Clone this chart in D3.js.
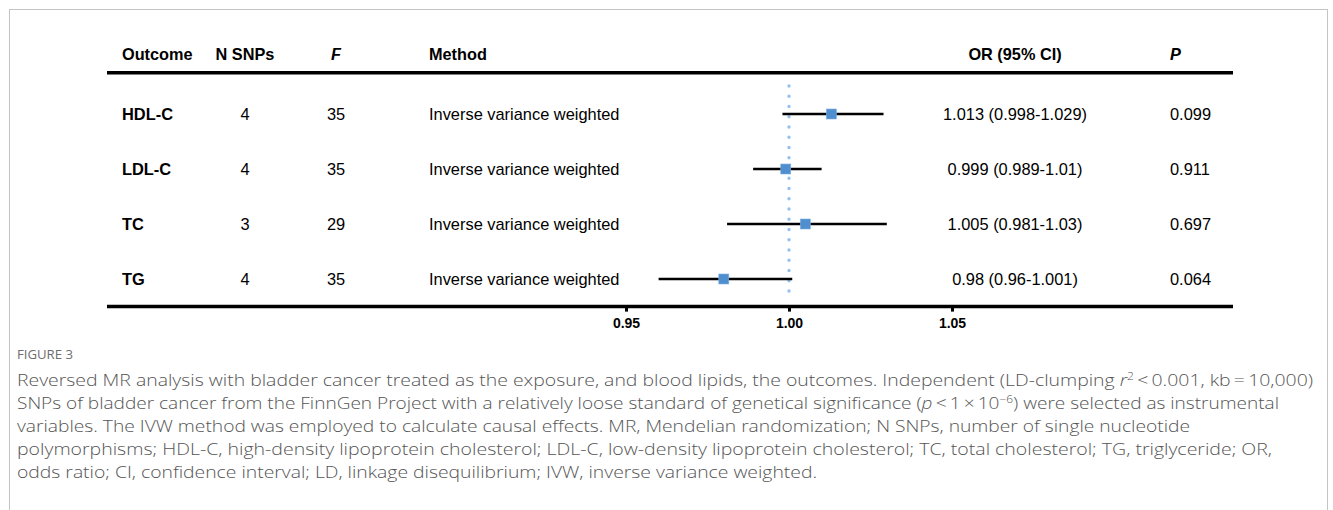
<!DOCTYPE html>
<html>
<head>
<meta charset="utf-8">
<script src="https://cdn.jsdelivr.net/npm/d3@7"></script>
<style>
  body { margin: 0; background: #fff; }
  svg { display: block; }
</style>
</head>
<body>
<svg width="1333" height="510"></svg>
<script>
var outcomes = ["HDL-C", "LDL-C", "TC", "TG"];
var nSnps = [4, 4, 3, 4];
var fStats = [35, 35, 29, 35];
var methods = ["Inverse variance weighted", "Inverse variance weighted", "Inverse variance weighted", "Inverse variance weighted"];
var orValues = [1.013, 0.999, 1.005, 0.98];
var ciLower = [0.998, 0.989, 0.981, 0.96];
var ciUpper = [1.029, 1.01, 1.03, 1.001];
var pValues = ["0.099", "0.911", "0.697", "0.064"];
var xTicks = [0.95, 1.00, 1.05];

var rows = outcomes.map(function(o, i) {
  return {
    outcome: o, n: nSnps[i], f: fStats[i], method: methods[i],
    or: orValues[i], lo: ciLower[i], hi: ciUpper[i], p: pValues[i]
  };
});

var svg = d3.select("svg");
var tableFont = "'Liberation Sans', Arial, sans-serif";

// figure frame
svg.append("rect")
  .attr("x", 9.5).attr("y", 9.5)
  .attr("width", 1318).attr("height", 530)
  .attr("fill", "none").attr("stroke", "#c4c4c4").attr("stroke-width", 1);

var x = d3.scaleLinear().domain([0.95, 1.05]).range([626, 952]);
var y = d3.scalePoint().domain(outcomes).range([114, 279]);

var tableLeft = 107, tableRight = 1233;

var cols = {
  outcome: { x: 122, anchor: "start" },
  n: { x: 245, anchor: "middle" },
  f: { x: 336, anchor: "middle" },
  method: { x: 429, anchor: "start" },
  ci: { x: 1015, anchor: "middle" },
  p: { x: 1170, anchor: "start" }
};

// header
var header = svg.append("g")
  .attr("font-family", tableFont)
  .attr("font-size", 16.3)
  .attr("font-weight", "bold")
  .attr("fill", "#000");

[["outcome", "Outcome", false], ["n", "N SNPs", false], ["f", "F", true],
 ["method", "Method", false], ["ci", "OR (95% CI)", false], ["p", "P", true]]
  .forEach(function(h) {
    header.append("text")
      .attr("x", cols[h[0]].x)
      .attr("y", 59.5)
      .attr("text-anchor", cols[h[0]].anchor)
      .attr("font-style", h[2] ? "italic" : "normal")
      .text(h[1]);
  });

svg.append("line")
  .attr("x1", tableLeft).attr("x2", tableRight)
  .attr("y1", 72.8).attr("y2", 72.8)
  .attr("stroke", "#000").attr("stroke-width", 3.5);

// reference line at OR = 1
svg.append("line")
  .attr("x1", x(1)).attr("x2", x(1))
  .attr("y1", 86).attr("y2", 301)
  .attr("stroke", "#93c1f2")
  .attr("stroke-width", 3.4)
  .attr("stroke-linecap", "round")
  .attr("stroke-dasharray", "0 10.25");

// table rows
var row = svg.append("g").selectAll("g.row")
  .data(rows)
  .enter().append("g")
  .attr("class", "row")
  .attr("transform", function(d) { return "translate(0," + y(d.outcome) + ")"; })
  .attr("font-family", tableFont)
  .attr("font-size", 16.4)
  .attr("fill", "#000");

function cell(key, fn, bold) {
  row.append("text")
    .attr("x", cols[key].x)
    .attr("dy", "0.35em")
    .attr("text-anchor", cols[key].anchor)
    .attr("font-weight", bold ? "bold" : "normal")
    .text(fn);
}
cell("outcome", function(d) { return d.outcome; }, true);
cell("n", function(d) { return d.n; });
cell("f", function(d) { return d.f; });
cell("method", function(d) { return d.method; });
cell("ci", function(d) { return d.or + " (" + d.lo + "-" + d.hi + ")"; });
cell("p", function(d) { return d.p; });

// CI whiskers and point estimates
row.append("line")
  .attr("x1", function(d) { return x(d.lo); })
  .attr("x2", function(d) { return x(d.hi); })
  .attr("stroke", "#000").attr("stroke-width", 2.6);

row.append("rect")
  .attr("x", function(d) { return x(d.or) - 5; })
  .attr("y", -5)
  .attr("width", 10).attr("height", 10)
  .attr("fill", "#4f8fcf")
  .attr("stroke", "#7fb0e0").attr("stroke-width", 0.6);

// bottom axis
svg.append("line")
  .attr("x1", tableLeft).attr("x2", tableRight)
  .attr("y1", 306.6).attr("y2", 306.6)
  .attr("stroke", "#000").attr("stroke-width", 3.5);

var axis = svg.append("g")
  .attr("transform", "translate(0,306.6)")
  .call(d3.axisBottom(x).tickValues(xTicks).tickFormat(d3.format(".2f")).tickSize(5).tickPadding(6));
axis.select(".domain").remove();
axis.selectAll(".tick line").attr("stroke", "#000").attr("stroke-width", 3);
axis.selectAll(".tick text")
  .attr("font-family", tableFont)
  .attr("font-size", 14)
  .attr("font-weight", "bold")
  .attr("fill", "#000");

// caption
var capFont = "'Open Sans', 'Noto Sans', sans-serif";
svg.append("text")
  .attr("x", 17).attr("y", 359)
  .attr("font-family", capFont)
  .attr("font-size", 12.5)
  .attr("fill", "#6e6e6e")
  .attr("textLength", 56)
  .attr("lengthAdjust", "spacingAndGlyphs")
  .text("FIGURE 3");

var caption = svg.append("g")
  .attr("font-family", capFont)
  .attr("font-size", 16)
  .attr("font-weight", 300)
  .attr("fill", "#555");

function capLine(yPos, width, parts) {
  var t = caption.append("text")
    .attr("x", 17).attr("y", yPos)
    .attr("textLength", width)
    .attr("lengthAdjust", "spacingAndGlyphs");
  parts.forEach(function(p) {
    var s = t.append("tspan").text(p.t);
    if (p.i) s.attr("font-style", "italic");
    if (p.sup) s.attr("font-size", 10).attr("dy", -6);
    if (p.down) s.attr("dy", 6);
  });
}

capLine(386, 1296, [
  { t: "Reversed MR analysis with bladder cancer treated as the exposure, and blood lipids, the outcomes. Independent (LD-clumping " },
  { t: "r", i: true }, { t: "2", sup: true },
  { t: "\u2009<\u20090.001, kb\u2009=\u200910,000)", down: true }
]);
capLine(409, 1262, [
  { t: "SNPs of bladder cancer from the FinnGen Project with a relatively loose standard of genetical significance (" },
  { t: "p", i: true },
  { t: "\u2009<\u20091\u2009\u00d7\u200910" },
  { t: "\u22126", sup: true },
  { t: ") were selected as instrumental", down: true }
]);
capLine(432, 1173, [
  { t: "variables. The IVW method was employed to calculate causal effects. MR, Mendelian randomization; N SNPs, number of single nucleotide" }
]);
capLine(455, 1255, [
  { t: "polymorphisms; HDL-C, high-density lipoprotein cholesterol; LDL-C, low-density lipoprotein cholesterol; TC, total cholesterol; TG, triglyceride; OR," }
]);
capLine(478, 800, [
  { t: "odds ratio; CI, confidence interval; LD, linkage disequilibrium; IVW, inverse variance weighted." }
]);
</script>
</body>
</html>
